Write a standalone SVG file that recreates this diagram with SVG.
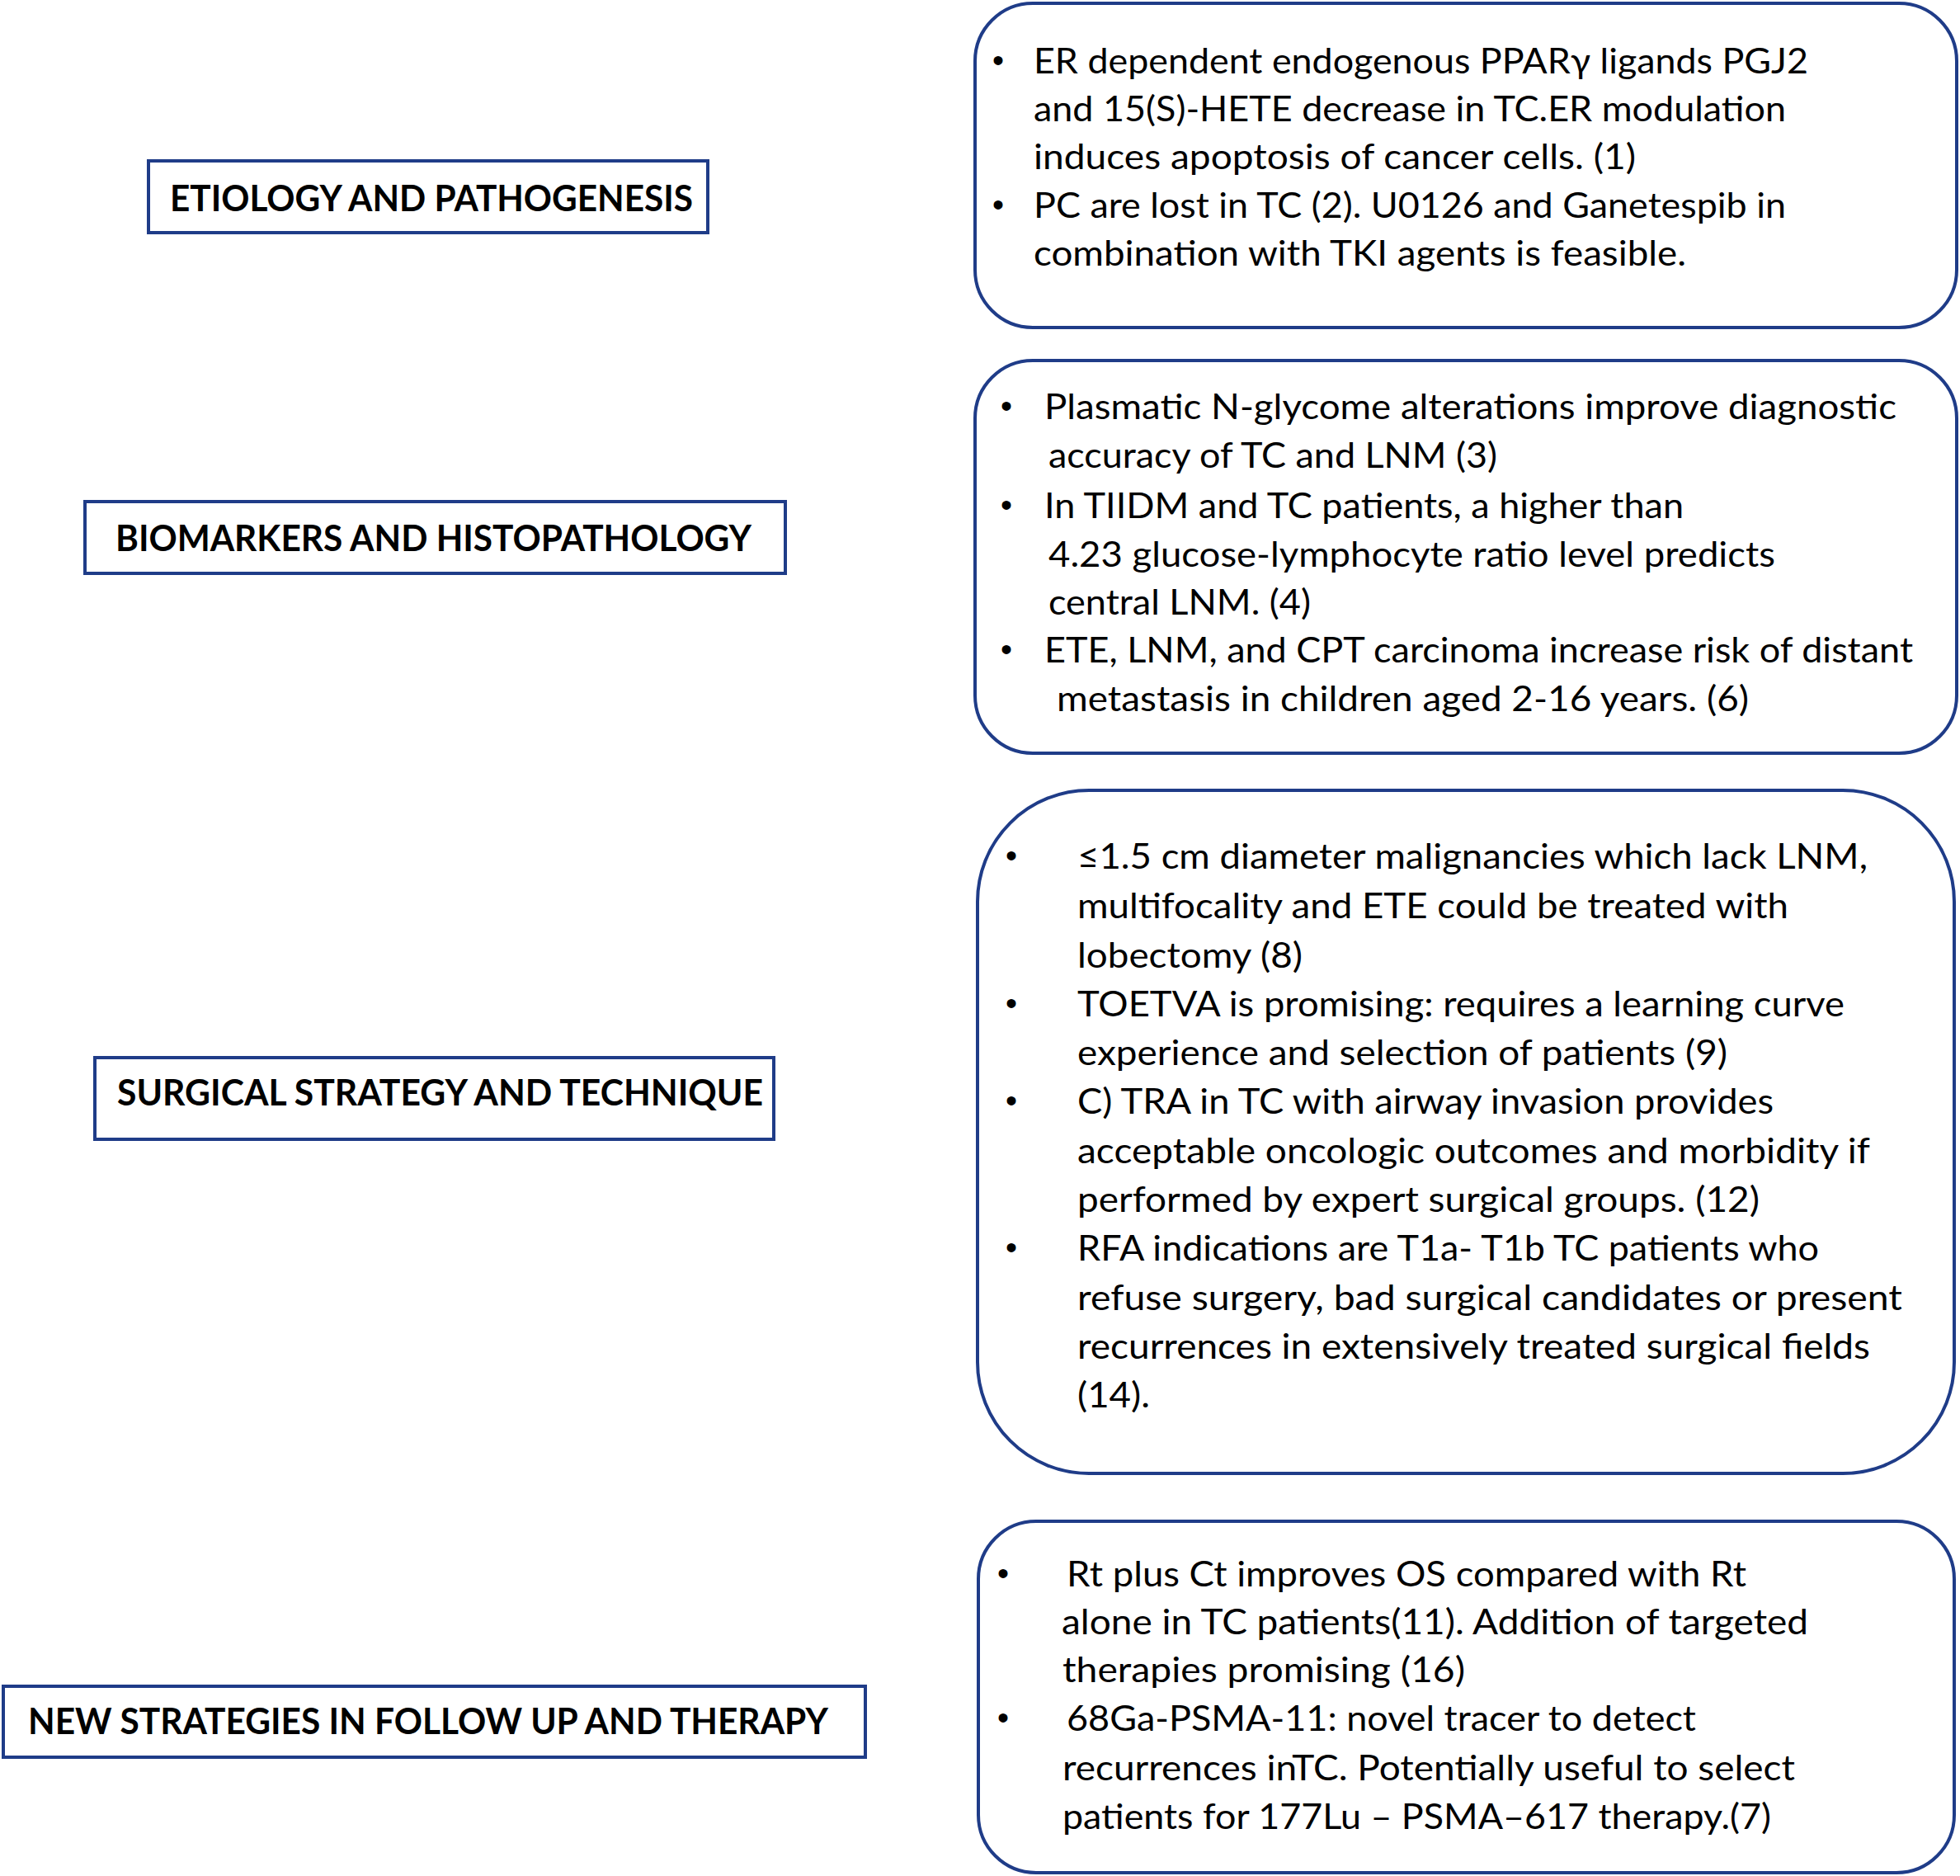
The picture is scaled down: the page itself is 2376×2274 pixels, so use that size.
<svg xmlns="http://www.w3.org/2000/svg" width="2376" height="2274" viewBox="0 0 2376 2274">
<style>
.hd{fill:#fff;stroke:#1f3c88;stroke-width:4}
.rb{fill:#fff;stroke:#1f3c88;stroke-width:4}
.ht{font-family:Lato,"Open Sans","Liberation Sans",sans-serif;font-weight:bold;font-size:43px;fill:#000}
.bt{font-family:Lato,"Open Sans","Liberation Sans",sans-serif;font-size:43px;fill:#000}
.bu{font-family:"Liberation Sans",sans-serif;font-size:40px;fill:#000}
</style>
<rect width="2376" height="2274" fill="#fff"/>
<g id="connectors"/>
<g id="h-etiology">
<rect class="hd" x="180" y="195" width="678" height="87"/>
<text class="ht" x="206" y="256" textLength="634" lengthAdjust="spacingAndGlyphs">ETIOLOGY AND PATHOGENESIS</text>
</g>
<g id="h-biomarkers">
<rect class="hd" x="103" y="608" width="849" height="87"/>
<text class="ht" x="140" y="668" textLength="771" lengthAdjust="spacingAndGlyphs">BIOMARKERS AND HISTOPATHOLOGY</text>
</g>
<g id="h-surgical">
<rect class="hd" x="115" y="1282" width="823" height="99"/>
<text class="ht" x="142" y="1340" textLength="783" lengthAdjust="spacingAndGlyphs">SURGICAL STRATEGY AND TECHNIQUE</text>
</g>
<g id="h-new">
<rect class="hd" x="4" y="2044" width="1045" height="86"/>
<text class="ht" x="34" y="2102" textLength="970" lengthAdjust="spacingAndGlyphs">NEW STRATEGIES IN FOLLOW UP AND THERAPY</text>
</g>
<g id="b-etiology">
<rect class="rb" x="1182" y="4" width="1190" height="393" rx="70" ry="70"/>
<text class="bu" x="1203" y="87">•</text>
<text class="bt" x="1253" y="89" textLength="939" lengthAdjust="spacingAndGlyphs">ER dependent endogenous PPARγ ligands PGJ2</text>
<text class="bt" x="1253" y="147" textLength="912" lengthAdjust="spacingAndGlyphs">and 15(S)-HETE decrease in TC.ER modulation</text>
<text class="bt" x="1253" y="205" textLength="730" lengthAdjust="spacingAndGlyphs">induces apoptosis of cancer cells. (1)</text>
<text class="bu" x="1203" y="262">•</text>
<text class="bt" x="1253" y="264" textLength="912" lengthAdjust="spacingAndGlyphs">PC are lost in TC (2). U0126 and Ganetespib in</text>
<text class="bt" x="1253" y="322" textLength="791" lengthAdjust="spacingAndGlyphs">combination with TKI agents is feasible.</text>
</g>
<g id="b-biomarkers">
<rect class="rb" x="1182" y="437" width="1190" height="476" rx="70" ry="70"/>
<text class="bu" x="1213" y="506">•</text>
<text class="bt" x="1266" y="508" textLength="1033" lengthAdjust="spacingAndGlyphs">Plasmatic N-glycome alterations improve diagnostic</text>
<text class="bt" x="1271" y="567" textLength="544" lengthAdjust="spacingAndGlyphs">accuracy of TC and LNM (3)</text>
<text class="bu" x="1213" y="626">•</text>
<text class="bt" x="1266" y="628" textLength="775" lengthAdjust="spacingAndGlyphs">In TIIDM and TC patients, a higher than</text>
<text class="bt" x="1271" y="687" textLength="881" lengthAdjust="spacingAndGlyphs">4.23 glucose-lymphocyte ratio level predicts</text>
<text class="bt" x="1271" y="745" textLength="318" lengthAdjust="spacingAndGlyphs">central LNM. (4)</text>
<text class="bu" x="1213" y="801">•</text>
<text class="bt" x="1266" y="803" textLength="1053" lengthAdjust="spacingAndGlyphs">ETE, LNM, and CPT carcinoma increase risk of distant</text>
<text class="bt" x="1281" y="862" textLength="839" lengthAdjust="spacingAndGlyphs">metastasis in children aged 2-16 years. (6)</text>
</g>
<g id="b-surgical">
<rect class="rb" x="1185" y="958" width="1184" height="828" rx="135" ry="135"/>
<text class="bu" x="1219" y="1051">•</text>
<text class="bt" x="1306" y="1053" textLength="958" lengthAdjust="spacingAndGlyphs">≤1.5 cm diameter malignancies which lack LNM,</text>
<text class="bt" x="1306" y="1113" textLength="862" lengthAdjust="spacingAndGlyphs">multifocality and ETE could be treated with</text>
<text class="bt" x="1306" y="1173" textLength="273" lengthAdjust="spacingAndGlyphs">lobectomy (8)</text>
<text class="bu" x="1219" y="1230">•</text>
<text class="bt" x="1306" y="1232" textLength="930" lengthAdjust="spacingAndGlyphs">TOETVA is promising: requires a learning curve</text>
<text class="bt" x="1306" y="1291" textLength="788" lengthAdjust="spacingAndGlyphs">experience and selection of patients (9)</text>
<text class="bu" x="1219" y="1348">•</text>
<text class="bt" x="1306" y="1350" textLength="844" lengthAdjust="spacingAndGlyphs">C) TRA in TC with airway invasion provides</text>
<text class="bt" x="1306" y="1410" textLength="961" lengthAdjust="spacingAndGlyphs">acceptable oncologic outcomes and morbidity if</text>
<text class="bt" x="1306" y="1469" textLength="827" lengthAdjust="spacingAndGlyphs">performed by expert surgical groups. (12)</text>
<text class="bu" x="1219" y="1526">•</text>
<text class="bt" x="1306" y="1528" textLength="899" lengthAdjust="spacingAndGlyphs">RFA indications are T1a- T1b TC patients who</text>
<text class="bt" x="1306" y="1588" textLength="1000" lengthAdjust="spacingAndGlyphs">refuse surgery, bad surgical candidates or present</text>
<text class="bt" x="1306" y="1647" textLength="961" lengthAdjust="spacingAndGlyphs">recurrences in extensively treated surgical fields</text>
<text class="bt" x="1306" y="1706" textLength="88" lengthAdjust="spacingAndGlyphs">(14).</text>
</g>
<g id="b-new">
<rect class="rb" x="1186" y="1844" width="1183" height="426" rx="70" ry="70"/>
<text class="bu" x="1209" y="1921">•</text>
<text class="bt" x="1293" y="1923" textLength="824" lengthAdjust="spacingAndGlyphs">Rt plus Ct improves OS compared with Rt</text>
<text class="bt" x="1287" y="1981" textLength="905" lengthAdjust="spacingAndGlyphs">alone in TC patients(11). Addition of targeted</text>
<text class="bt" x="1288" y="2039" textLength="488" lengthAdjust="spacingAndGlyphs">therapies promising (16)</text>
<text class="bu" x="1209" y="2096">•</text>
<text class="bt" x="1293" y="2098" textLength="763" lengthAdjust="spacingAndGlyphs">68Ga-PSMA-11: novel tracer to detect</text>
<text class="bt" x="1288" y="2158" textLength="888" lengthAdjust="spacingAndGlyphs">recurrences inTC. Potentially useful to select</text>
<text class="bt" x="1288" y="2217" textLength="859" lengthAdjust="spacingAndGlyphs">patients for 177Lu – PSMA–617 therapy.(7)</text>
</g>
</svg>
